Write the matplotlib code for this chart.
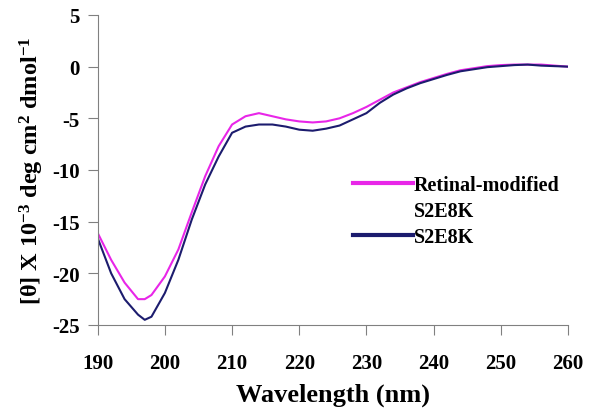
import numpy as np
import matplotlib
matplotlib.use("Agg")
import matplotlib.pyplot as plt
from matplotlib.lines import Line2D

plt.rcParams['font.family'] = ['Liberation Serif', 'DejaVu Serif']
plt.rcParams['font.weight'] = 'bold'
plt.rcParams['mathtext.fontset'] = 'custom'
plt.rcParams['mathtext.rm'] = 'Liberation Serif:bold'
plt.rcParams['mathtext.it'] = 'Liberation Serif:bold'
plt.rcParams['mathtext.bf'] = 'Liberation Serif:bold'
plt.rcParams['axes.unicode_minus'] = False

# CD spectra
wavelength = [190, 192, 194, 196, 197, 198, 200, 202, 204, 206, 208, 210, 212, 214,
              216, 218, 220, 222, 224, 226, 228, 230, 232, 234, 236, 238, 240,
              242, 244, 246, 248, 250, 252, 254, 256, 258, 260]
retinal_s2e8k = [-16.1, -18.7, -20.9, -22.5, -22.5, -22.1, -20.3, -17.7, -14.1, -10.6,
                 -7.7, -5.6, -4.8, -4.5, -4.8, -5.1, -5.3, -5.4, -5.3, -5.0, -4.5,
                 -3.9, -3.2, -2.5, -2.0, -1.5, -1.1, -0.7, -0.35, -0.15, 0.05, 0.15,
                 0.2, 0.2, 0.2, 0.1, 0.0]
s2e8k = [-16.6, -20.0, -22.5, -24.0, -24.5, -24.2, -21.9, -18.7, -14.8, -11.4,
         -8.7, -6.4, -5.8, -5.6, -5.6, -5.8, -6.1, -6.2, -6.0, -5.7, -5.1,
         -4.5, -3.5, -2.7, -2.1, -1.6, -1.2, -0.8, -0.45, -0.25, -0.05, 0.05,
         0.15, 0.2, 0.1, 0.05, 0.0]

xticks = [190, 200, 210, 220, 230, 240, 250, 260]
yticks = [-25, -20, -15, -10, -5, 0, 5]

fig = plt.figure(figsize=(6.01, 4.14), dpi=100)
ax = fig.add_axes([0.1626, 0.2126, 0.7824, 0.7488])

ax.plot(wavelength, retinal_s2e8k, color='#e826e8', lw=1.5)
ax.plot(wavelength, s2e8k, color='#1c1c6e', lw=1.5)

ax.set_xlim(190, 260)
ax.set_ylim(-25, 5)
ax.set_xticks(xticks)
ax.set_yticks(yticks)
ax.tick_params(labelsize=15, direction='out', length=7, color='#808080')
ax.tick_params(axis='x', pad=13)
ax.tick_params(axis='y', pad=6)
for s in ['top', 'right']:
    ax.spines[s].set_visible(False)
for s in ['left', 'bottom']:
    ax.spines[s].set_color('#808080')

ax.set_xlabel('Wavelength (nm)', fontsize=19, fontweight='bold', labelpad=7)
ax.set_ylabel(r'[θ] X 10$^{-3}$ deg cm$^{2}$ dmol$^{−1}$', fontsize=17.5,
              fontweight='bold', labelpad=4)

# legend: first label wraps onto a second line, handle sits on the first line
handles = [Line2D([], [], color='#e826e8', lw=3),
           Line2D([], [], color='none', lw=3),
           Line2D([], [], color='#1c1c6e', lw=3)]
ax.legend(handles, ['Retinal-modified', 'S2E8K', 'S2E8K'], frameon=False,
          fontsize=14.5, handlelength=3.0, handletextpad=0.0, labelspacing=0.3,
          borderpad=0, borderaxespad=0,
          loc='upper left', bbox_to_anchor=(0.543, 0.485))

plt.savefig('out.png', dpi=100)
